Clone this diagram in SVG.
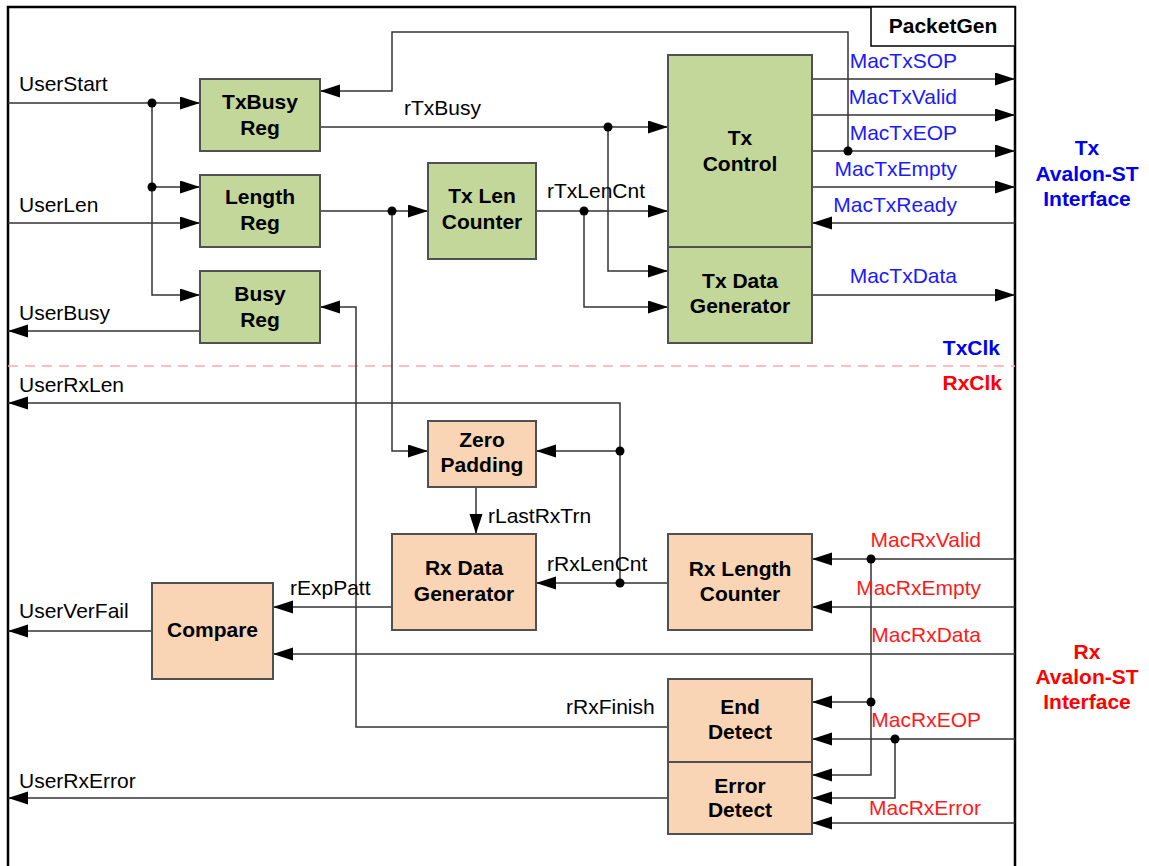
<svg xmlns="http://www.w3.org/2000/svg" width="1149" height="866" viewBox="0 0 1149 866">
<defs>
<marker id="ah" markerUnits="userSpaceOnUse" markerWidth="20" markerHeight="14" refX="20" refY="6.5" orient="auto">
<path d="M0,0 L20,6.5 L0,13 z" fill="#000"/>
</marker>
<style>
.frame{fill:none;stroke:#000;stroke-width:2.5}
.w{fill:none;stroke:#333;stroke-width:1.5}
.a{marker-end:url(#ah)}
.dot{fill:#000}
.g{fill:#c4d79b;stroke:#505050;stroke-width:2}
.o{fill:#fad5b5;stroke:#505050;stroke-width:2}
text{font-family:"Liberation Sans",Arial,sans-serif;font-size:21px}
.b{font-weight:bold;text-anchor:middle;fill:#000}
.l{fill:#000}
.tb{fill:#1a1aff}
.tr{fill:#ff1a1a}
.bb{font-weight:bold;fill:#0000f0}
.br{font-weight:bold;fill:#ff0000}
</style>
</defs>
<rect width="1149" height="866" fill="#fff"/>
<path class="frame" d="M8,866 V7 H1015 V866"/>
<g id="title">
<rect x="871" y="7" width="144" height="39" fill="#fff" stroke="#000" stroke-width="1.5"/>
<text class="b" x="943" y="33">PacketGen</text>
</g>
<line x1="8" y1="366" x2="1015" y2="366" stroke="#ffaaaa" stroke-width="1.5" stroke-dasharray="10 7"/>
<text class="bb" x="1000" y="355" text-anchor="end">TxClk</text>
<text class="br" x="1002" y="390" text-anchor="end">RxClk</text>
<g id="tx-if"><text class="bb" text-anchor="middle"><tspan x="1087" y="155">Tx</tspan><tspan x="1087" y="181">Avalon-ST</tspan><tspan x="1087" y="206">Interface</tspan></text></g>
<g id="rx-if"><text class="br" text-anchor="middle"><tspan x="1087" y="659">Rx</tspan><tspan x="1087" y="684">Avalon-ST</tspan><tspan x="1087" y="709">Interface</tspan></text></g>

<g id="connectors">
<path class="w a" d="M8,103 H200"/>
<path class="w a" d="M152,103 V295 H200"/>
<path class="w a" d="M152,187 H200"/>
<path class="w a" d="M8,223 H200"/>
<path class="w a" d="M200,331 H8"/>
<path class="w a" d="M848,151 V32 H392 V91 H320"/>
<path class="w a" d="M320,127 H668"/>
<path class="w a" d="M608,127 V271 H668"/>
<path class="w a" d="M320,211 H428"/>
<path class="w a" d="M392,211 V451 H428"/>
<path class="w a" d="M536,211 H668"/>
<path class="w a" d="M584,211 V307 H668"/>
<path class="w a" d="M812,79 H1015"/>
<path class="w a" d="M812,115 H1015"/>
<path class="w a" d="M812,151 H1015"/>
<path class="w a" d="M812,187 H1015"/>
<path class="w a" d="M1015,223 H812"/>
<path class="w a" d="M812,295 H1015"/>
<path class="w a" d="M620,583 V403 H8"/>
<path class="w a" d="M620,451 H536"/>
<path class="w a" d="M668,583 H536"/>
<path class="w a" d="M476,487 V534"/>
<path class="w a" d="M392,607 H273"/>
<path class="w a" d="M152,631 H8"/>
<path class="w a" d="M1015,654 H273"/>
<path class="w a" d="M668,727 H356 V307 H320"/>
<path class="w a" d="M668,798 H8"/>
<path class="w a" d="M1015,559 H812"/>
<path class="w a" d="M871,559 V775 H812"/>
<path class="w a" d="M871,702 H812"/>
<path class="w a" d="M1015,607 H812"/>
<path class="w a" d="M1015,739 H812"/>
<path class="w a" d="M895,739 V798 H812"/>
<path class="w a" d="M1015,823 H812"/>
<circle class="dot" cx="152" cy="103" r="4.5"/>
<circle class="dot" cx="152" cy="187" r="4.5"/>
<circle class="dot" cx="848" cy="151" r="4.5"/>
<circle class="dot" cx="608" cy="127" r="4.5"/>
<circle class="dot" cx="392" cy="211" r="4.5"/>
<circle class="dot" cx="584" cy="211" r="4.5"/>
<circle class="dot" cx="620" cy="451" r="4.5"/>
<circle class="dot" cx="620" cy="583" r="4.5"/>
<circle class="dot" cx="871" cy="559" r="4.5"/>
<circle class="dot" cx="871" cy="702" r="4.5"/>
<circle class="dot" cx="895" cy="739" r="4.5"/>
<text class="l" x="19" y="91">UserStart</text>
<text class="l" x="19" y="212">UserLen</text>
<text class="l" x="19" y="320">UserBusy</text>
<text class="l" x="19" y="392">UserRxLen</text>
<text class="l" x="19" y="618">UserVerFail</text>
<text class="l" x="19" y="788">UserRxError</text>
<text class="l" x="404" y="115">rTxBusy</text>
<text class="l" x="547" y="198">rTxLenCnt</text>
<text class="l" x="488" y="523">rLastRxTrn</text>
<text class="l" x="547" y="571">rRxLenCnt</text>
<text class="l" x="290" y="595">rExpPatt</text>
<text class="l" x="566" y="714">rRxFinish</text>
<text class="tb" x="957" y="68" text-anchor="end">MacTxSOP</text>
<text class="tb" x="957" y="104" text-anchor="end">MacTxValid</text>
<text class="tb" x="957" y="140" text-anchor="end">MacTxEOP</text>
<text class="tb" x="957" y="176" text-anchor="end">MacTxEmpty</text>
<text class="tb" x="957" y="212" text-anchor="end">MacTxReady</text>
<text class="tb" x="957" y="283" text-anchor="end">MacTxData</text>
<text class="tr" x="981" y="547" text-anchor="end">MacRxValid</text>
<text class="tr" x="981" y="595" text-anchor="end">MacRxEmpty</text>
<text class="tr" x="981" y="642" text-anchor="end">MacRxData</text>
<text class="tr" x="981" y="727" text-anchor="end">MacRxEOP</text>
<text class="tr" x="981" y="815" text-anchor="end">MacRxError</text>
</g>

<g id="txbusy-reg"><rect class="g" x="200" y="79" width="120" height="72"/><text class="b"><tspan x="260" y="109">TxBusy</tspan><tspan x="260" y="135">Reg</tspan></text></g>
<g id="length-reg"><rect class="g" x="200" y="175" width="120" height="72"/><text class="b"><tspan x="260" y="204">Length</tspan><tspan x="260" y="230">Reg</tspan></text></g>
<g id="busy-reg"><rect class="g" x="200" y="271" width="120" height="72"/><text class="b"><tspan x="260" y="301">Busy</tspan><tspan x="260" y="327">Reg</tspan></text></g>
<g id="tx-len-counter"><rect class="g" x="428" y="163" width="108" height="96"/><text class="b"><tspan x="482" y="203">Tx Len</tspan><tspan x="482" y="229">Counter</tspan></text></g>
<g id="tx-control"><rect class="g" x="668" y="55" width="144" height="192"/><text class="b"><tspan x="740" y="145">Tx</tspan><tspan x="740" y="171">Control</tspan></text></g>
<g id="tx-data-generator"><rect class="g" x="668" y="247" width="144" height="96"/><text class="b"><tspan x="740" y="288">Tx Data</tspan><tspan x="740" y="313">Generator</tspan></text></g>
<g id="zero-padding"><rect class="o" x="428" y="421" width="108" height="66"/><text class="b"><tspan x="482" y="447">Zero</tspan><tspan x="482" y="472">Padding</tspan></text></g>
<g id="rx-data-generator"><rect class="o" x="392" y="534" width="144" height="96"/><text class="b"><tspan x="464" y="575">Rx Data</tspan><tspan x="464" y="601">Generator</tspan></text></g>
<g id="compare"><rect class="o" x="152" y="583" width="121" height="96"/><text class="b" x="212.5" y="637">Compare</text></g>
<g id="rx-length-counter"><rect class="o" x="668" y="534" width="144" height="96"/><text class="b"><tspan x="740" y="576">Rx Length</tspan><tspan x="740" y="601">Counter</tspan></text></g>
<g id="end-detect"><rect class="o" x="668" y="679" width="144" height="83"/><text class="b"><tspan x="740" y="714">End</tspan><tspan x="740" y="739">Detect</tspan></text></g>
<g id="error-detect"><rect class="o" x="668" y="762" width="144" height="72"/><text class="b"><tspan x="740" y="793">Error</tspan><tspan x="740" y="817">Detect</tspan></text></g>
</svg>
